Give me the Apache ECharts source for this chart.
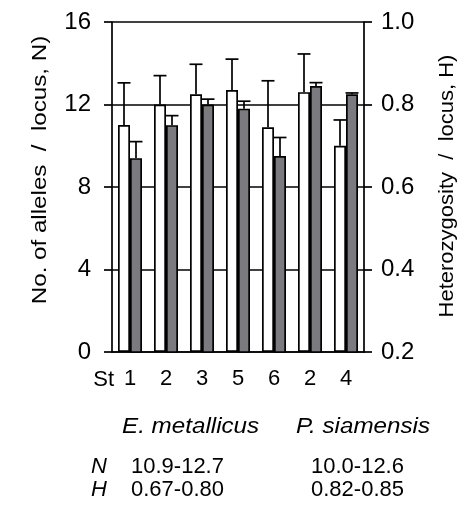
<!DOCTYPE html>
<html>
<head>
    <meta charset="utf-8">
    <title>Alleles and heterozygosity</title>
    <script src="https://cdn.jsdelivr.net/npm/echarts@6.0.0/dist/echarts.min.js"></script>
    <style>
        html, body { margin: 0; padding: 0; background: #fff; }
        #main { width: 467px; height: 512px; }
    </style>
</head>
<body>
    <div id="main"></div>
    <script type="text/javascript">
        // stations (E. metallicus: 1,2,3,5,6 ; P. siamensis: 2,4)
        var stations = ['1', '2', '3', '5', '6', '2', '4'];
        // number of alleles per locus (left axis) and upper end of error bar
        var alleleMean = [11.0, 12.0, 12.5, 12.7, 10.9, 12.6, 10.0];
        var alleleUpper = [13.05, 13.4, 13.95, 14.2, 13.15, 14.45, 11.25];
        // heterozygosity per locus (right axis) and upper end of error bar
        var hetMean = [0.67, 0.75, 0.80, 0.79, 0.675, 0.845, 0.825];
        var hetUpper = [0.71, 0.773, 0.813, 0.808, 0.72, 0.853, 0.828];
        var leftTicks = [0, 16, 4];   // min, max, interval
        var rightTicks = [0.2, 1.0, 0.2];

        var FONT = 'Arial, "Liberation Sans", sans-serif';
        var chart = echarts.init(document.getElementById('main'));

        // upward error bar with a cap, shifted onto its bar
        function errorBar(side) {
            return function (params, api) {
                var idx = api.value(0);
                var base = api.coord([idx, api.value(1)]);
                var top = api.coord([idx, api.value(2)]);
                var band = api.size([1, 0])[0];
                var x = base[0] + side * band / 6;
                var half = band * 0.18;
                var style = { stroke: '#000', lineWidth: 1.7 };
                return {
                    type: 'group',
                    children: [
                        { type: 'line', shape: { x1: x, y1: base[1], x2: x, y2: top[1] }, style: style },
                        { type: 'line', shape: { x1: x - half, y1: top[1], x2: x + half, y2: top[1] }, style: style }
                    ]
                };
            };
        }

        var lineStyle = { color: '#000', width: 1.7 };

        var option = {
            animation: false,
            textStyle: { fontFamily: FONT },
            grid: { left: 112, right: 103, top: 22, bottom: 160 },
            xAxis: {
                type: 'category',
                data: stations,
                axisLine: { lineStyle: lineStyle },
                axisTick: { length: 8, lineStyle: lineStyle },
                axisLabel: { color: '#000', fontSize: 22, margin: 16, fontFamily: FONT }
            },
            yAxis: [
                {
                    type: 'value',
                    min: leftTicks[0], max: leftTicks[1], interval: leftTicks[2],
                    axisLine: { show: true, lineStyle: lineStyle },
                    axisTick: { show: true, length: 8, lineStyle: lineStyle },
                    axisLabel: { color: '#000', fontSize: 24, margin: 21, fontFamily: FONT },
                    splitLine: { show: true, lineStyle: lineStyle }
                },
                {
                    type: 'value',
                    position: 'right',
                    min: rightTicks[0], max: rightTicks[1], interval: rightTicks[2],
                    axisLine: { show: true, lineStyle: lineStyle },
                    axisTick: { show: true, length: 8, lineStyle: lineStyle },
                    axisLabel: {
                        color: '#000', fontSize: 24, margin: 17, fontFamily: FONT,
                        formatter: function (v) { return v.toFixed(1); }
                    },
                    splitLine: { show: false }
                }
            ],
            series: [
                {
                    name: 'N',
                    type: 'bar',
                    yAxisIndex: 0,
                    data: alleleMean,
                    barWidth: '33.3%',
                    barGap: '0%',
                    itemStyle: { color: '#fff', borderColor: '#000', borderWidth: 1.7 }
                },
                {
                    name: 'H',
                    type: 'bar',
                    yAxisIndex: 1,
                    data: hetMean,
                    barWidth: '33.3%',
                    barGap: '0%',
                    itemStyle: { color: '#7b7b7f', borderColor: '#000', borderWidth: 1.7 }
                },
                {
                    type: 'custom',
                    yAxisIndex: 0,
                    renderItem: errorBar(-1),
                    data: stations.map(function (s, i) { return [i, alleleMean[i], alleleUpper[i]]; }),
                    z: 3
                },
                {
                    type: 'custom',
                    yAxisIndex: 1,
                    renderItem: errorBar(1),
                    data: stations.map(function (s, i) { return [i, hetMean[i], hetUpper[i]]; }),
                    z: 3
                }
            ],
            graphic: [
                { type: 'text', x: 114, y: 380, style: { text: 'St', font: '22px ' + FONT, fill: '#000', align: 'right', verticalAlign: 'middle' } },
                {
                    type: 'text', x: 40, y: 170, rotation: Math.PI / 2, scaleX: 1.15,
                    style: { text: 'No. of alleles  /  locus, N)', font: '21px ' + FONT, fill: '#000', align: 'center', verticalAlign: 'middle' }
                },
                {
                    type: 'text', x: 447, y: 186, rotation: Math.PI / 2, scaleX: 1.1,
                    style: { text: 'Heterozygosity  /  locus, H)', font: '20px ' + FONT, fill: '#000', align: 'center', verticalAlign: 'middle' }
                },
                { type: 'text', x: 122, y: 427, scaleX: 1.1, style: { text: 'E. metallicus', font: 'italic 22px ' + FONT, fill: '#000', verticalAlign: 'middle' } },
                { type: 'text', x: 296, y: 427, scaleX: 1.1, style: { text: 'P. siamensis', font: 'italic 22px ' + FONT, fill: '#000', verticalAlign: 'middle' } },
                { type: 'text', x: 91, y: 467, style: { text: 'N', font: 'italic 22px ' + FONT, fill: '#000', verticalAlign: 'middle' } },
                { type: 'text', x: 131, y: 467, style: { text: '10.9-12.7', font: '22px ' + FONT, fill: '#000', verticalAlign: 'middle' } },
                { type: 'text', x: 311, y: 467, style: { text: '10.0-12.6', font: '22px ' + FONT, fill: '#000', verticalAlign: 'middle' } },
                { type: 'text', x: 91, y: 490, style: { text: 'H', font: 'italic 22px ' + FONT, fill: '#000', verticalAlign: 'middle' } },
                { type: 'text', x: 131, y: 490, style: { text: '0.67-0.80', font: '22px ' + FONT, fill: '#000', verticalAlign: 'middle' } },
                { type: 'text', x: 311, y: 490, style: { text: '0.82-0.85', font: '22px ' + FONT, fill: '#000', verticalAlign: 'middle' } }
            ]
        };
        chart.setOption(option);
    </script>
</body>
</html>
